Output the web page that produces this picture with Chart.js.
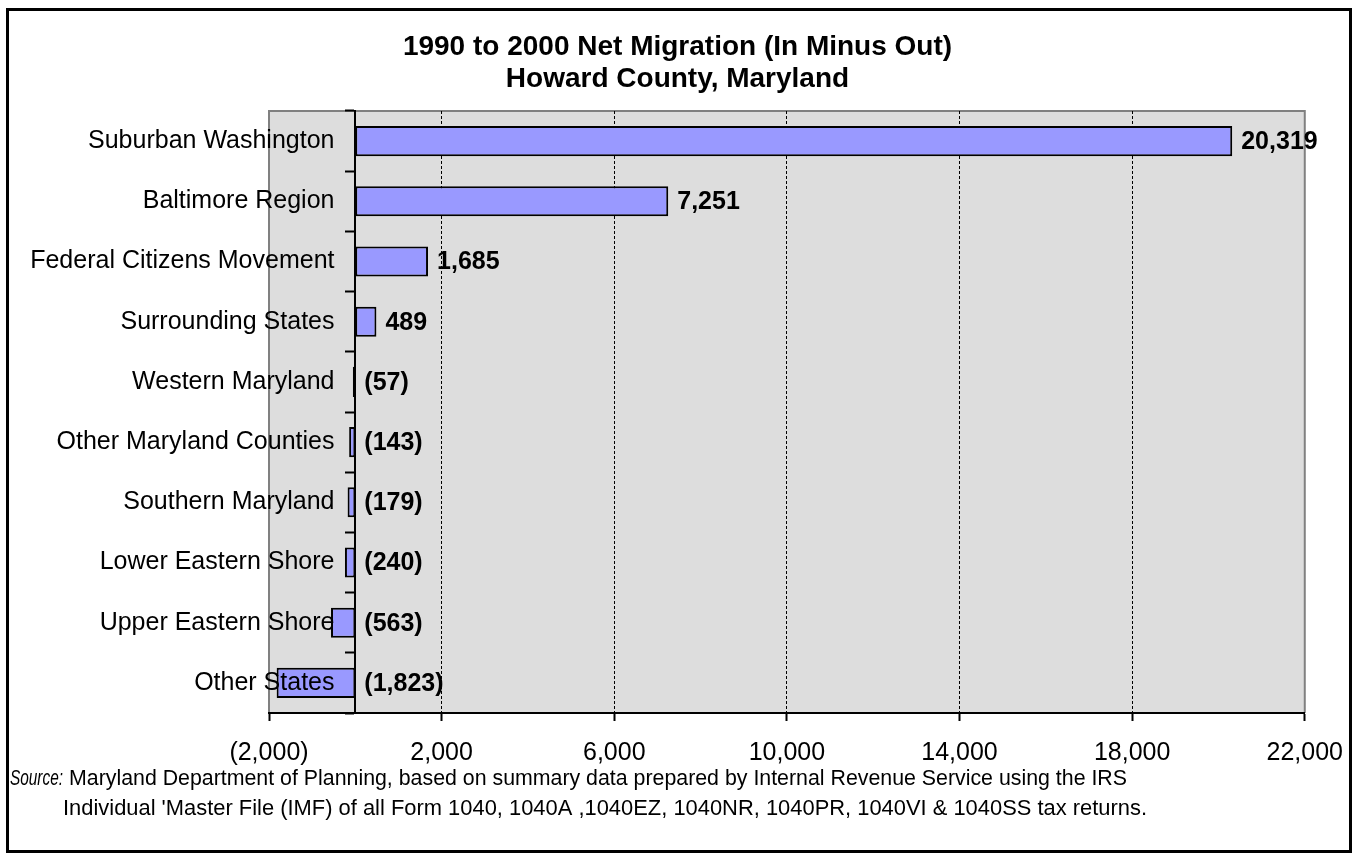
<!DOCTYPE html>
<html>
<head>
<meta charset="utf-8">
<script src="https://cdn.jsdelivr.net/npm/chart.js@4.4.1/dist/chart.umd.min.js"></script>
<style>
  html, body { margin: 0; padding: 0; background: #fff; }
  #wrap { width: 1355px; height: 854px; }
</style>
</head>
<body>
<div id="wrap"><canvas id="migrationChart"></canvas></div>
<script>
const regions = [
    'Suburban Washington',
    'Baltimore Region',
    'Federal Citizens Movement',
    'Surrounding States',
    'Western Maryland',
    'Other Maryland Counties',
    'Southern Maryland',
    'Lower Eastern Shore',
    'Upper Eastern Shore',
    'Other States'
];
const netMigration = [20319, 7251, 1685, 489, -57, -143, -179, -240, -563, -1823];
const axisMin = -2000;
const axisMax = 22000;
const axisStep = 4000;
const titleLines = ['1990 to 2000 Net Migration (In Minus Out)', 'Howard County, Maryland'];
const sourceLines = [
    'Maryland Department of Planning, based on summary data prepared by Internal Revenue Service using the IRS',
    "Individual 'Master File (IMF) of all Form 1040, 1040A ,1040EZ, 1040NR, 1040PR, 1040VI & 1040SS tax returns."
];

const FONT = "'Liberation Sans', Arial, sans-serif";

// numbers like Excel: negatives in brackets
function fmt(v) {
    const s = Math.abs(v).toLocaleString('en-US');
    return v < 0 ? '(' + s + ')' : s;
}

// grey plot area, grey frame on three sides
const plotBackground = {
    id: 'plotBackground',
    beforeDraw(chart) {
        const { ctx, chartArea: a } = chart;
        ctx.save();
        ctx.fillStyle = '#fff';
        ctx.fillRect(0, 0, chart.width, chart.height);
        ctx.fillStyle = '#dddddd';
        ctx.fillRect(a.left, a.top, a.right - a.left, a.bottom - a.top);
        ctx.strokeStyle = '#808080';
        ctx.lineWidth = 2;
        ctx.beginPath();
        ctx.moveTo(a.left, a.bottom);
        ctx.lineTo(a.left, a.top);
        ctx.lineTo(a.right, a.top);
        ctx.lineTo(a.right, a.bottom);
        ctx.stroke();

        // title, centred on the whole picture
        ctx.fillStyle = '#000';
        ctx.font = 'bold 28px ' + FONT;
        ctx.textAlign = 'center';
        ctx.textBaseline = 'middle';
        ctx.fillText(titleLines[0], chart.width / 2, 47);
        ctx.fillText(titleLines[1], chart.width / 2, 79);
        ctx.restore();
    }
};

// value labels next to the bars
const valueLabels = {
    id: 'valueLabels',
    afterDatasetsDraw(chart) {
        const { ctx } = chart;
        const meta = chart.getDatasetMeta(0);
        const zero = chart.scales.x.getPixelForValue(0);
        ctx.save();
        ctx.font = 'bold 25px ' + FONT;
        ctx.fillStyle = '#000';
        ctx.textBaseline = 'middle';
        ctx.textAlign = 'left';
        meta.data.forEach((bar, i) => {
            const v = netMigration[i];
            const x = v >= 0 ? bar.x + 9 : zero + 9;
            ctx.fillText(fmt(v), x, bar.y + 1);
        });
        ctx.restore();
    }
};

// source note and outer frame
const sourceNote = {
    id: 'sourceNote',
    afterDraw(chart) {
        const { ctx } = chart;
        const fitText = (text, x, y, width) => {
            const w = ctx.measureText(text).width;
            ctx.save();
            ctx.translate(x, y);
            ctx.scale(width / w, 1);
            ctx.fillText(text, 0, 0);
            ctx.restore();
        };
        ctx.save();
        ctx.fillStyle = '#000';
        ctx.textBaseline = 'middle';
        ctx.textAlign = 'left';
        ctx.font = 'italic 22px ' + FONT;
        fitText('Source:', 10, 779, 53);
        ctx.font = '22px ' + FONT;
        fitText(sourceLines[0], 69, 779, 1058);
        fitText(sourceLines[1], 63, 809, 1084);
        ctx.strokeStyle = '#000';
        ctx.lineWidth = 3;
        ctx.strokeRect(7.5, 9.5, 1343, 842);
        ctx.restore();
    }
};

const ctx = document.getElementById('migrationChart').getContext('2d');
new Chart(ctx, {
    type: 'bar',
    data: {
        labels: regions,
        datasets: [{
            data: netMigration,
            backgroundColor: '#9999ff',
            borderColor: '#000',
            borderWidth: 2,
            borderSkipped: false,
            barPercentage: 0.5,
            categoryPercentage: 1
        }]
    },
    options: {
        indexAxis: 'y',
        responsive: true,
        maintainAspectRatio: false,
        animation: false,
        events: [],
        layout: { padding: { top: 111, left: 269, right: 50, bottom: 69 } },
        plugins: {
            legend: { display: false },
            tooltip: { enabled: false },
            title: { display: false }
        },
        scales: {
            x: {
                min: axisMin,
                max: axisMax,
                ticks: {
                    stepSize: axisStep,
                    callback: v => fmt(v),
                    color: '#000',
                    font: { family: FONT, size: 25, lineHeight: 1.6 },
                    padding: 12,
                    maxRotation: 0,
                    autoSkip: false
                },
                grid: {
                    color: c => (c.index === 0 || c.index === 6) ? 'rgba(0,0,0,0)' : '#000',
                    lineWidth: 1,
                    tickLength: 8,
                    tickColor: '#000',
                    tickWidth: 2
                },
                border: { color: '#000', width: 2, dash: [3, 2] }
            },
            y: {
                position: { x: 0 },
                ticks: {
                    color: '#000',
                    font: { family: FONT, size: 25 },
                    // labels sit left of the zero line, clear of the tick marks
                    callback: (v, i) => regions[i] + '   ',
                    autoSkip: false,
                    z: 1
                },
                grid: {
                    drawOnChartArea: false,
                    tickLength: 9,
                    tickColor: '#000',
                    tickWidth: 2,
                    offset: true
                },
                border: { color: '#000', width: 2 }
            }
        }
    },
    plugins: [plotBackground, valueLabels, sourceNote]
});
</script>
</body>
</html>
